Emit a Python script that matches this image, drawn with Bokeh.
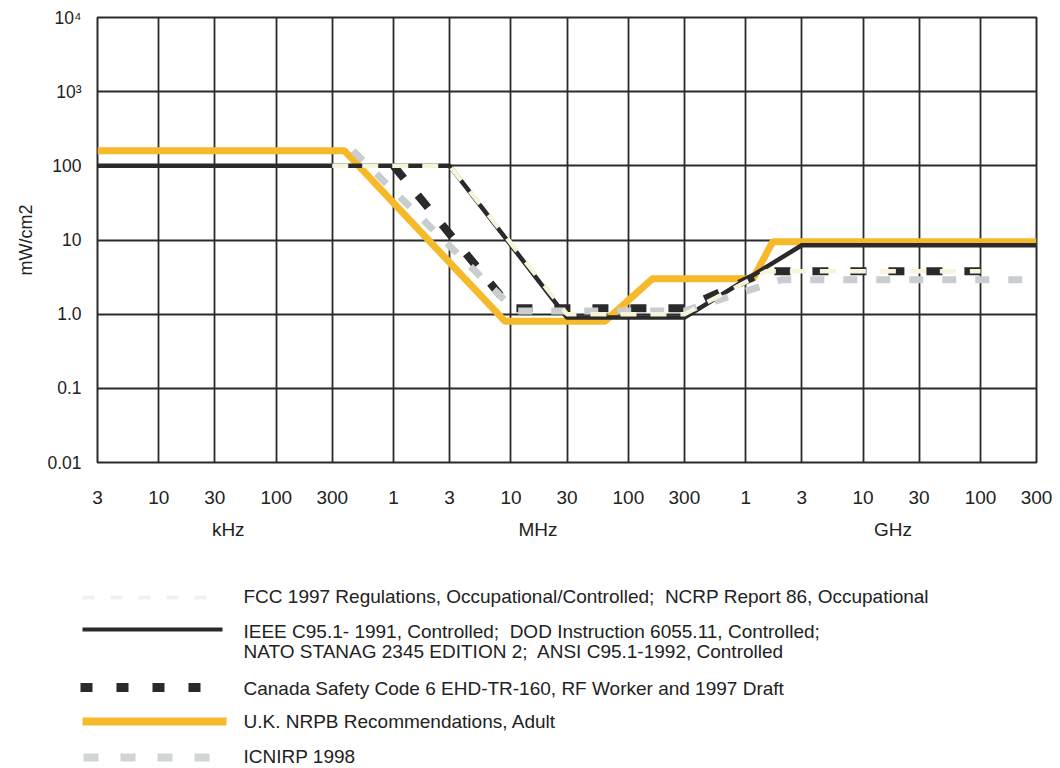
from bokeh.plotting import figure
from bokeh.models import LogAxis, FixedTicker, Range1d
from bokeh.layouts import column
from bokeh.core.properties import value
from bokeh.embed import file_html
from bokeh.resources import INLINE

# ---- axes (frequency in Hz, power density in mW/cm2) ----
x_ticks = [3e3, 1e4, 3e4, 1e5, 3e5, 1e6, 3e6, 1e7, 3e7, 1e8, 3e8, 1e9, 3e9, 1e10, 3e10, 1e11, 3e11]
x_tick_labels = ["3", "10", "30", "100", "300", "1", "3", "10", "30", "100", "300",
                 "1", "3", "10", "30", "100", "300"]
y_ticks = [0.01, 0.1, 1, 10, 100, 1000, 10000]
y_tick_labels = ["0.01", "0.1", "1.0", "10", "100", "10³", "10⁴"]
unit_labels = ["kHz", "MHz", "GHz"]
unit_label_freq = [3.9e4, 1.7e7, 1.8e10]

# ---- series ----
fcc_freq = [3e5, 3e6, 3e7, 3e8, 1.5e9, 1e11]
fcc_pd = [100, 100, 1.0, 1.0, 3.8, 3.8]

ieee_freq = [3e3, 3e6, 3e7, 3e8, 3e9, 3e11]
ieee_pd = [100, 100, 0.9, 0.9, 8.5, 8.5]

canada_freq = [1e6, 1e7, 3e8, 1.5e9, 1e11]
canada_pd = [100, 1.2, 1.2, 3.8, 3.8]

uk_freq = [3e3, 3.8e5, 8.9e6, 6.3e7, 1.6e8, 1.15e9, 1.7e9, 3e11]
uk_pd = [160, 160, 0.8, 0.8, 3.0, 3.0, 9.5, 9.5]

icnirp_freq = [4.5e5, 1.1e7, 3e8, 2e9, 3e11]
icnirp_pd = [160, 1.1, 1.1, 2.9, 2.9]

NB = "\u00a0"
legend_labels = [
    "FCC 1997 Regulations, Occupational/Controlled;" + NB + " NCRP Report 86, Occupational",
    "IEEE C95.1- 1991, Controlled;" + NB + " DOD Instruction 6055.11, Controlled;",
    "NATO STANAG 2345 EDITION 2;" + NB + " ANSI C95.1-1992, Controlled",
    "Canada Safety Code 6 EHD-TR-160, RF Worker and 1997 Draft",
    "U.K. NRPB Recommendations, Adult",
    "ICNIRP 1998",
]

BLACK = "#2a2a2a"
YELLOW = "#f6b92a"
GRAY = "#c9cdcf"
CREAM = "#f7f4da"
FONT = "Liberation Sans"
TEXT = "#222222"

W = 1058
p = figure(width=W, height=542, x_axis_type="log", y_axis_type="log",
           x_range=Range1d(3e3, 3e11), y_range=Range1d(0.01, 1e4),
           output_backend="svg", toolbar_location=None,
           min_border_left=97, min_border_right=22, min_border_top=17,
           min_border_bottom=80)

p.outline_line_color = BLACK
p.outline_line_width = 2
p.outline_line_alpha = 1

xa = p.xaxis[0]
xa.ticker = FixedTicker(ticks=x_ticks)
xa.major_label_overrides = dict(zip(x_ticks, x_tick_labels))
ya = p.yaxis[0]
ya.ticker = FixedTicker(ticks=y_ticks)
ya.major_label_overrides = dict(zip(y_ticks, y_tick_labels))
ya.axis_label = "mW/cm2"
ya.axis_label_text_font = FONT
ya.axis_label_text_font_size = "18px"
ya.axis_label_text_font_style = "normal"
ya.axis_label_text_color = TEXT
ya.axis_label_standoff = 8

for ax in (xa, ya):
    ax.axis_line_color = None
    ax.major_tick_line_color = None
    ax.minor_tick_line_color = None
    ax.major_tick_out = 0
    ax.major_label_text_font = FONT
    ax.major_label_text_color = TEXT
xa.major_label_text_font_size = "19px"
ya.major_label_text_font_size = "17.5px"
xa.major_label_standoff = 28
ya.major_label_standoff = 16

unit_axis = LogAxis(ticker=FixedTicker(ticks=unit_label_freq),
                    major_label_overrides=dict(zip(unit_label_freq, unit_labels)),
                    axis_line_color=None, major_tick_line_color=None,
                    minor_tick_line_color=None, major_tick_out=0,
                    major_label_standoff=12, major_label_text_font=FONT,
                    major_label_text_font_size="19px",
                    major_label_text_color=TEXT)
p.add_layout(unit_axis, "below")

p.xgrid.ticker = FixedTicker(ticks=x_ticks)
p.ygrid.ticker = FixedTicker(ticks=y_ticks)
for g in (p.xgrid, p.ygrid):
    g.grid_line_color = BLACK
    g.grid_line_width = 1.8
    g.grid_line_alpha = 1

p.line(uk_freq, uk_pd, line_color=YELLOW, line_width=7)
p.line(ieee_freq, ieee_pd, line_color=BLACK, line_width=4.5)
p.line(canada_freq, canada_pd, line_color=BLACK, line_width=8, line_dash="16 22")
p.line(icnirp_freq, icnirp_pd, line_color=GRAY, line_width=7, line_dash="14 19")
p.line(fcc_freq, fcc_pd, line_color=CREAM, line_width=4.5, line_dash="16 14")

# ---- legend panel: frame spans the same x as the chart frame; x/y are page pixels ----
LEG_TOP, LEG_BOTTOM = 542, 768
leg = figure(width=W, height=LEG_BOTTOM - LEG_TOP,
             x_range=Range1d(97, W - 22), y_range=Range1d(LEG_BOTTOM, LEG_TOP),
             output_backend="svg", toolbar_location=None,
             min_border_left=97, min_border_right=22, min_border_top=0,
             min_border_bottom=0, x_axis_type=None, y_axis_type=None)
leg.outline_line_color = None
leg.grid.visible = False

leg.line([82, 222], [597, 597], line_color="#f1f1ec", line_width=4,
         line_dash="12 16", level="overlay")
leg.line([82, 222], [629, 629], line_color=BLACK, line_width=4, level="overlay")
leg.line([80, 204], [687, 687], line_color=BLACK, line_width=9,
         line_dash="12 24", level="overlay")
leg.line([82, 226], [721, 721], line_color=YELLOW, line_width=8, level="overlay")
leg.line([83, 218], [757, 757], line_color="#d2d5d6", line_width=8,
         line_dash="15 22", level="overlay")

text_y = [596, 631, 651, 688, 721, 756]
leg.text(x=[243] * len(legend_labels), y=text_y, text=legend_labels,
         text_font=value(FONT), text_font_size="19px", text_color=TEXT,
         text_baseline="middle", text_align="left", level="overlay")

layout = column(p, leg)
open("out.html", "w").write(file_html(layout, INLINE))
